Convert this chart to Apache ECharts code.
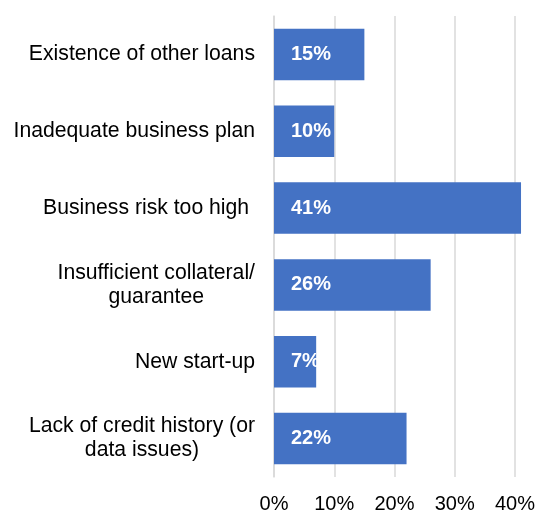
<!DOCTYPE html>
<html>
<head>
<meta charset="utf-8">
<script src="https://cdn.jsdelivr.net/npm/echarts@6/dist/echarts.min.js"></script>
<style>
    html, body { margin: 0; padding: 0; background: #fff; }
    #main { width: 539px; height: 511px; }
</style>
</head>
<body>
<div id="main"></div>
<script>
var categories = [
    'Existence of other loans',
    'Inadequate business plan',
    'Business risk too high ',
    'Insufficient collateral/\nguarantee',
    'New start-up',
    'Lack of credit history (or\ndata issues)'
];
var values = [15, 10, 41, 26, 7, 22];
var tickStep = 10;
var tickMax = 40;

var font = '"Liberation Sans", Arial, sans-serif';
var myChart = echarts.init(document.getElementById('main'));

myChart.setOption({
    backgroundColor: '#fff',
    animation: false,
    grid: {
        left: 274,
        right: 24,
        top: 16,
        bottom: 34,
        outerBoundsMode: 'none'
    },
    xAxis: {
        type: 'value',
        min: 0,
        max: tickMax,
        interval: tickStep,
        axisLine: { show: false },
        axisTick: { show: false },
        axisLabel: {
            formatter: '{value}%',
            color: '#000',
            fontSize: 20,
            fontFamily: font,
            margin: 17
        },
        splitLine: {
            show: true,
            lineStyle: { color: '#d9d9d9', width: 1.5 }
        }
    },
    yAxis: {
        type: 'category',
        inverse: true,
        data: categories,
        axisLine: { show: true, lineStyle: { color: '#d9d9d9', width: 1.5 } },
        axisTick: { show: false },
        axisLabel: {
            margin: 19,
            align: 'right',
            // 多行标签居中对齐
            formatter: function (v) {
                return v.split('\n').map(function (s) { return '{c|' + s + '}'; }).join('\n');
            },
            rich: {
                c: {
                    align: 'center',
                    color: '#000',
                    fontSize: 21.2,
                    fontFamily: font,
                    lineHeight: 24
                }
            }
        }
    },
    series: [{
        type: 'bar',
        data: values,
        clip: false,
        barCategoryGap: '33%',
        itemStyle: { color: '#4472C4' },
        label: {
            show: true,
            position: 'insideLeft',
            distance: 17,
            formatter: '{c}%',
            color: '#fff',
            fontWeight: 'bold',
            fontSize: 20,
            fontFamily: font
        }
    }]
});
</script>
</body>
</html>
